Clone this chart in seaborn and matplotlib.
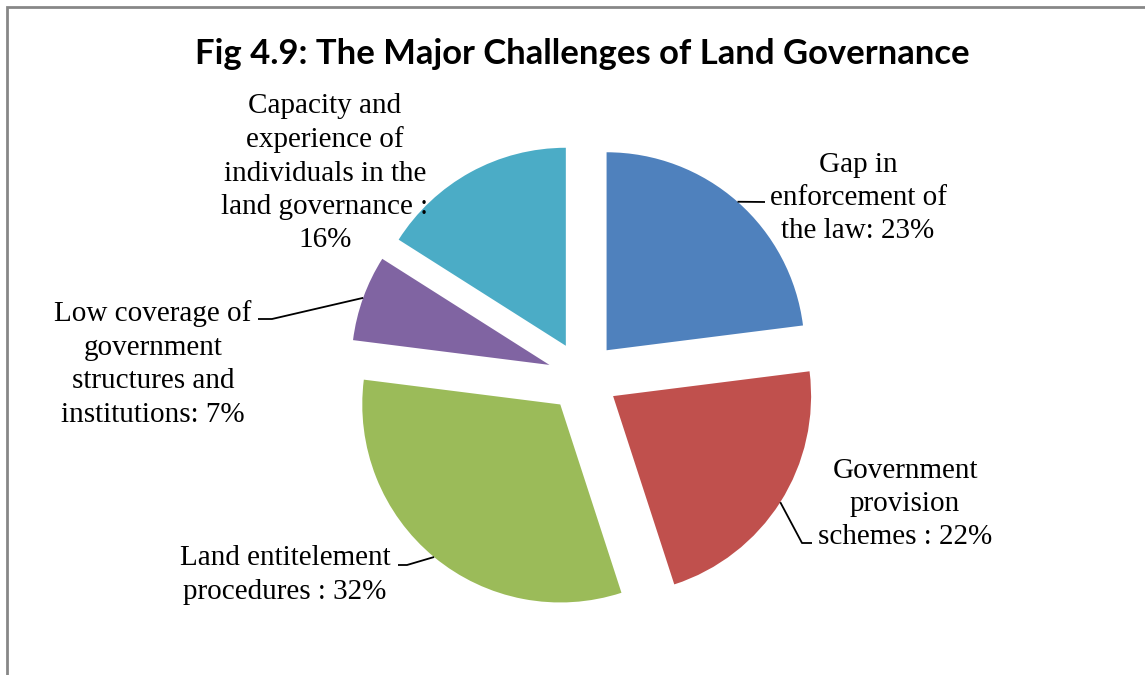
import numpy as np
import matplotlib
matplotlib.use("Agg")
import matplotlib.pyplot as plt
from matplotlib.patches import Rectangle
import seaborn as sns

# Survey shares of the main land-governance challenges
categories = [
    "Gap in\nenforcement of\nthe law",
    "Government\nprovision\nschemes ",
    "Land entitelement\nprocedures ",
    "Low coverage of\ngovernment\nstructures and\ninstitutions",
    "Capacity and\nexperience of\nindividuals in the\nland governance ",
]
shares = [23, 22, 32, 7, 16]
palette = ["#4F81BD", "#C0504D", "#9BBB59", "#8064A2", "#4BACC6"]
title = "Fig 4.9: The Major Challenges of Land Governance"

sns.set_theme(style="white")
plt.rcParams["font.family"] = ["Liberation Serif", "DejaVu Serif"]

W, H, DPI = 1145, 675, 100
fig = plt.figure(figsize=(W / DPI, H / DPI), dpi=DPI)
ax = fig.add_axes([0, 0, 1, 1])

# pixel layout of the pie: centre and radius
CX, CY, R = 583, 377, 198


def px(x, y):
    """Convert pixel position (from top-left) to data coordinates."""
    return ((x - CX) / R, (CY - y) / R)


explode = [0.18] * len(shares)
wedges, _ = ax.pie(shares, colors=palette, startangle=90, counterclock=False,
                   explode=explode, radius=1.0, wedgeprops=dict(linewidth=0))
ax.set_aspect("auto")
ax.set_xlim(-CX / R, (W - CX) / R)
ax.set_ylim((CY - H) / R, CY / R)
ax.axis("off")

sep = ":"
labels = [f"{c}{sep} {v}%" for c, v in zip(categories, shares)]
labels[4] = f"{categories[4]}{sep}\n{shares[4]}%"

text_pos = [(858, 198), (905, 504), (285, 575), (153, 364), (325, 173)]
for lab, (tx, ty) in zip(labels, text_pos):
    ax.text(*px(tx, ty), lab, ha="center", va="center", fontsize=21,
            linespacing=1.37, color="black")


# leader lines: start on the outer rim of each wedge at its mid angle
def rim_point(w):
    theta = np.deg2rad((w.theta1 + w.theta2) / 2)
    cx, cy = w.center
    return cx + w.r * np.cos(theta), cy + w.r * np.sin(theta)


leaders = {
    0: [px(765, 202)],
    1: [px(802, 543), px(812, 543)],
    2: [px(407, 565), px(398, 565)],
    3: [px(272, 319), px(258, 319)],
}
for i, pts in leaders.items():
    x0, y0 = rim_point(wedges[i])
    xs = [x0] + [p[0] for p in pts]
    ys = [y0] + [p[1] for p in pts]
    ax.plot(xs, ys, color="black", lw=1.3, solid_capstyle="butt")

fig.text(582 / W, 1 - 54 / H, title, ha="center", va="center", color="black",
         fontsize=24.9, fontweight="bold", family=["Lato", "DejaVu Sans"])

# chart-area frame
fig.patches.append(Rectangle((7 / W, -0.1), 1.2, 1 - 7 / H + 0.1,
                             transform=fig.transFigure, fill=False,
                             edgecolor="#878787", lw=2))

fig.savefig("out.png", dpi=DPI)
